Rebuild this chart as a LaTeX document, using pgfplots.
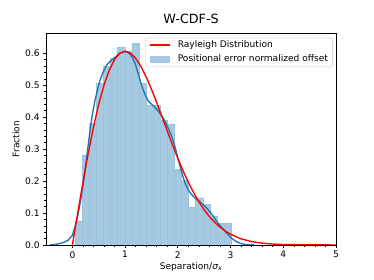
\documentclass[border=0pt]{standalone}
\usepackage{fontspec}
\setmainfont{DejaVu Sans}
\usepackage{pgfplots}
\pgfplotsset{compat=1.18}
\definecolor{c0}{HTML}{1F77B4}
\definecolor{mplred}{HTML}{FF0000}

\pgfplotstableread{
x y
0.0500 0.075
0.1845 0.282
0.3190 0.381
0.4535 0.506
0.5880 0.560
0.7225 0.585
0.8570 0.618
0.9915 0.606
1.1260 0.632
1.2605 0.506
1.3950 0.438
1.5295 0.438
1.6640 0.391
1.7985 0.379
1.9330 0.237
2.0675 0.203
2.2020 0.118
2.3365 0.148
2.4710 0.127
2.6055 0.090
2.7400 0.068
2.8745 0.068
3.0090 0.068
}\histdata

\pgfplotstableread{
x y
-0.42 0.000
-0.35 0.001
-0.28 0.003
-0.23 0.005
-0.15 0.009
-0.08 0.015
0.00 0.030
0.05 0.057
0.10 0.090
0.146 0.130
0.20 0.185
0.24 0.235
0.29 0.300
0.336 0.360
0.38 0.410
0.43 0.454
0.48 0.488
0.525 0.516
0.58 0.540
0.65 0.563
0.72 0.575
0.78 0.584
0.85 0.593
0.905 0.600
1.00 0.605
1.06 0.602
1.127 0.590
1.19 0.568
1.25 0.535
1.31 0.500
1.38 0.470
1.44 0.450
1.506 0.440
1.57 0.430
1.63 0.418
1.70 0.403
1.76 0.386
1.82 0.364
1.886 0.339
1.95 0.305
2.01 0.265
2.06 0.235
2.106 0.209
2.15 0.188
2.20 0.172
2.25 0.160
2.296 0.151
2.39 0.139
2.486 0.125
2.55 0.115
2.61 0.103
2.68 0.088
2.74 0.073
2.82 0.057
2.90 0.042
2.96 0.031
3.02 0.021
3.10 0.011
3.20 0.004
3.30 0.001
3.45 0.000
}\kdedata

\pgfplotstableread{
x y
0.0 0.0000
0.1 0.0995
0.2 0.1960
0.3 0.2868
0.4 0.3692
0.5 0.4412
0.6 0.5012
0.7 0.5478
0.8 0.5809
0.9 0.6003
1.0 0.6065
1.1 0.6007
1.2 0.5841
1.3 0.5585
1.4 0.5255
1.5 0.4870
1.6 0.4449
1.7 0.4007
1.8 0.3562
1.9 0.3125
2.0 0.2707
2.1 0.2315
2.2 0.1956
2.3 0.1633
2.4 0.1348
2.5 0.1098
2.6 0.0885
2.7 0.0706
2.8 0.0556
2.9 0.0433
3.0 0.0333
3.2 0.0191
3.4 0.0105
3.6 0.0055
3.8 0.0028
4.0 0.0013
4.5 0.0002
5.0 0.0000
}\rayleighdata

\begin{document}
\begin{tikzpicture}[font=\fontsize{10}{12}\selectfont]
\begin{axis}[
  scale only axis,
  width=319.3pt, height=233.4pt,
  xmin=-0.5, xmax=5, ymin=0, ymax=0.6635,
  xtick={0,1,2,3,4,5},
  ytick={0,0.1,0.2,0.3,0.4,0.5,0.6},
  minor x tick num=4, minor y tick num=4,
  tick align=outside, tick pos=left,
  major tick length=3.5pt, minor tick length=2pt,
  every tick/.style={black, line width=0.8pt},
  every minor tick/.style={black, line width=0.6pt},
  axis line style={black, line width=0.8pt},
  /pgf/number format/assume math mode=true,
  yticklabel style={/pgf/number format/.cd, fixed, fixed zerofill, precision=1},
  ticklabel style={font=\fontsize{10}{12}\selectfont},
  title={W-CDF-S},
  title style={font=\fontsize{14}{16}\selectfont, at={(axis description cs:0.5,1)}, anchor=base, yshift=4.4pt},
  xlabel={Separation/{\itshape σ\textsubscript{x}}},
  xlabel style={at={(axis description cs:0.5,0)}, anchor=base, yshift=-26.5pt},
  ylabel={Fraction},
  ylabel style={at={([xshift=-29.4pt]axis description cs:0,0.5)}, anchor=base, rotate=0},
  legend style={at={(axis description cs:1,1)}, anchor=north east, xshift=-3.6pt, yshift=-5.2pt,
    draw=black!22, rounded corners=2.5pt, font=\fontsize{10}{12}\selectfont,
    inner xsep=5pt, inner ysep=3pt, row sep=5.9pt, column sep=0pt,
    nodes={inner xsep=0pt, inner ysep=0pt, text height=7.5pt, text depth=2.5pt}},
  legend cell align=left,
]
\addplot[ybar interval, fill=c0!40!white, draw=c0!44!white, line width=0.3pt, forget plot] table[x=x,y=y] {\histdata};
\addplot[c0, line width=1.5pt, forget plot] table[x=x,y=y] {\kdedata};
\addplot[mplred, line width=1.5pt, legend image code/.code={\draw[mplred, line width=1.5pt, sharp corners] (0pt,0pt) -- (21pt,0pt); \path (29.3pt,0pt);}] table[x=x,y=y] {\rayleighdata};
\addlegendentry{Rayleigh Distribution}
\addlegendimage{legend image code/.code={\fill[c0!40!white, sharp corners] (0pt,-3.2pt) rectangle (21pt,3.2pt); \path (29.3pt,0pt);}}
\addlegendentry{Positional error normalized offset}
\end{axis}
\pgfresetboundingbox
\path[use as bounding box] ([xshift=-50.7pt,yshift=-38.5pt]current axis.south west) rectangle ([xshift=41.8pt,yshift=36.3pt]current axis.north east);
\end{tikzpicture}
\end{document}
